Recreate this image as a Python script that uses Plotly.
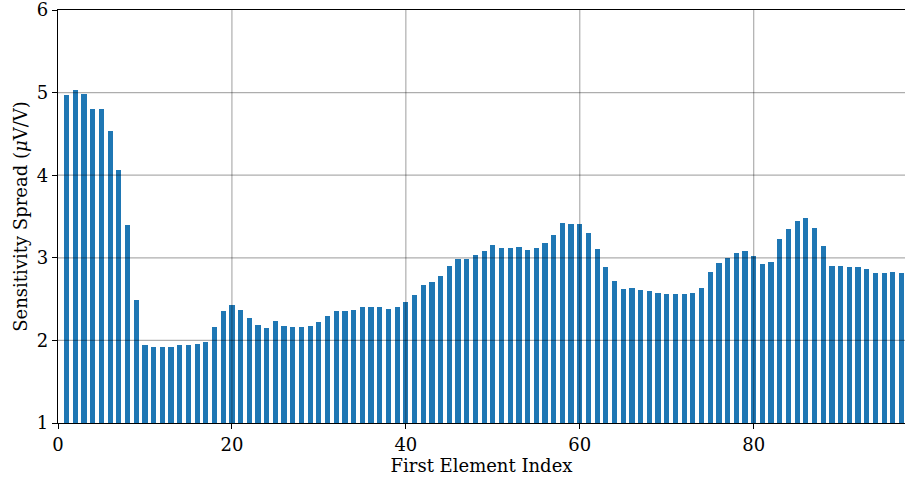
import plotly.graph_objects as go

element_index = list(range(1, 98))
spread = [
    4.97, 5.03, 4.98, 4.80, 4.80, 4.53, 4.06, 3.40, 2.49, 1.94,
    1.92, 1.92, 1.92, 1.95, 1.95, 1.96, 1.98, 2.16, 2.35, 2.43,
    2.37, 2.27, 2.19, 2.15, 2.24, 2.18, 2.16, 2.16, 2.18, 2.22,
    2.30, 2.36, 2.36, 2.37, 2.40, 2.41, 2.40, 2.38, 2.41, 2.47,
    2.55, 2.67, 2.71, 2.78, 2.90, 2.99, 2.99, 3.04, 3.08, 3.16,
    3.12, 3.12, 3.13, 3.10, 3.12, 3.18, 3.28, 3.42, 3.41, 3.41,
    3.30, 3.11, 2.89, 2.72, 2.62, 2.64, 2.61, 2.60, 2.57, 2.56,
    2.56, 2.56, 2.57, 2.64, 2.83, 2.94, 3.00, 3.06, 3.08, 3.02,
    2.93, 2.95, 3.23, 3.35, 3.44, 3.48, 3.36, 3.14, 2.90, 2.90,
    2.89, 2.89, 2.87, 2.82, 2.82, 2.83, 2.82,
]
x_ticks = [0, 20, 40, 60, 80]
y_ticks = [1, 2, 3, 4, 5, 6]

FONT = "DejaVu Serif"
grid_color = "rgba(0,0,0,0.32)"

fig = go.Figure()
fig.add_trace(go.Bar(
    x=element_index, y=spread, width=0.6,
    marker=dict(color="#1f77b4", line=dict(width=0)),
    showlegend=False,
))

shapes = []
for xv in x_ticks[1:]:
    shapes.append(dict(type="line", xref="x", yref="paper", x0=xv, x1=xv, y0=0, y1=1,
                       line=dict(color=grid_color, width=1.2), layer="above"))
for yv in y_ticks[1:-1]:
    shapes.append(dict(type="line", xref="paper", yref="y", x0=0, x1=1, y0=yv, y1=yv,
                       line=dict(color=grid_color, width=1.2), layer="above"))

fig.update_layout(
    width=905, height=482,
    margin=dict(l=58, r=0, t=10, b=59),
    plot_bgcolor="white", paper_bgcolor="white",
    font=dict(family=FONT, size=18, color="black"),
    shapes=shapes,
    bargap=0,
)
fig.update_xaxes(
    range=[0, 97.4], tickvals=x_ticks, showgrid=False, zeroline=False,
    showline=True, linecolor="black", linewidth=1.2, mirror=True,
    ticks="outside", ticklen=5, tickcolor="black", tickwidth=1.2,
    ticklabeloverflow="allow",
    title=dict(text="First Element Index", font=dict(size=18), standoff=4),
)
fig.update_yaxes(
    range=[1, 6], tickvals=y_ticks, showgrid=False, zeroline=False,
    showline=True, linecolor="black", linewidth=1.2,
    ticks="outside", ticklen=5, tickcolor="black", tickwidth=1.2,
    ticklabeloverflow="allow",
    title=dict(text="Sensitivity Spread (<i>μ</i>V/V)", font=dict(size=18), standoff=4),
)

fig.write_html("out.html")
